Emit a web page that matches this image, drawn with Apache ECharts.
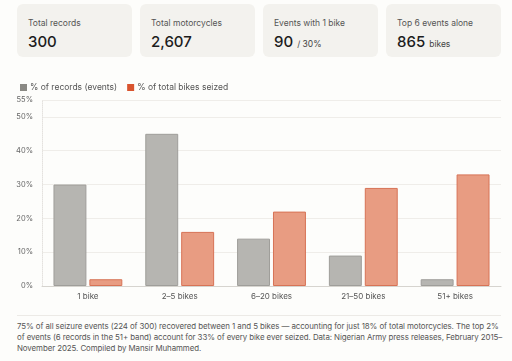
<!DOCTYPE html>
<html>
<head>
<meta charset="utf-8">
<script src="https://cdn.jsdelivr.net/npm/echarts@6/dist/echarts.min.js"></script>
<style>
  html, body { margin: 0; padding: 0; background: #fdfdfb; }
  body { width: 512px; height: 361px; position: relative; overflow: hidden; font-family: Inter, "Noto Sans", sans-serif; }
  .card { position: absolute; top: 4px; width: 115px; height: 53px; background: #f3f2ee; border-radius: 6px; box-sizing: border-box; padding-left: 11px; }
  .card .lbl { position: absolute; top: 14px; left: 11px; font-size: 8.5px; color: #555; }
  .card .val { position: absolute; top: 28px; left: 11px; font-size: 15px; font-weight: 500; color: #1c1c1c; white-space: nowrap; }
  .card .val small { font-size: 8.5px; font-weight: 400; color: #444; }
  #chart { position: absolute; left: 0; top: 70px; width: 512px; height: 240px; }
  .rule { position: absolute; left: 17px; right: 11px; top: 315px; border-top: 1px solid #eceae6; }
  .note { position: absolute; left: 17px; width: 490px; top: 321px; font-size: 7.9px; letter-spacing: -0.08px; line-height: 11px; color: #555; }
</style>
</head>
<body>
<div class="card" style="left:17px"><div class="lbl">Total records</div><div class="val">300</div></div>
<div class="card" style="left:140px"><div class="lbl">Total motorcycles</div><div class="val">2,607</div></div>
<div class="card" style="left:263px"><div class="lbl">Events with 1 bike</div><div class="val">90 <small>/ 30%</small></div></div>
<div class="card" style="left:386px"><div class="lbl">Top 6 events alone</div><div class="val">865 <small>bikes</small></div></div>
<div id="chart"></div>
<div class="rule"></div>
<div class="note">75% of all seizure events (224 of 300) recovered between 1 and 5 bikes — accounting for just 18% of total motorcycles. The top 2% of events (6 records in the 51+ band) account for 33% of every bike ever seized. Data: Nigerian Army press releases, February 2015–<wbr>November 2025. Compiled by Mansir Muhammed.</div>
<script>
// bike-count bands
const bands = ['1 bike', '2–5 bikes', '6–20 bikes', '21–50 bikes', '51+ bikes']
// share of seizure records per band (%)
const recordsPct = [30, 45, 14, 9, 2]
// share of all bikes seized per band (%)
const bikesPct = [2, 16, 22, 29, 33]

const chart = echarts.init(document.getElementById('chart'))

const option = {
  animation: false,
  textStyle: { fontFamily: 'Inter, "Noto Sans", sans-serif' },
  legend: {
    left: 15,
    top: 8,
    itemWidth: 7,
    itemHeight: 7,
    itemGap: 10,
    textStyle: { fontSize: 8.5, color: '#555', padding: [0, 0, 0, -2] },
    data: [
      { name: '% of records (events)', icon: 'rect', itemStyle: { color: '#8a8984', borderWidth: 0 } },
      { name: '% of total bikes seized', icon: 'rect', itemStyle: { color: '#d9542e', borderWidth: 0 } }
    ]
  },
  grid: { left: 42, right: 11, top: 30, bottom: 24 },
  xAxis: {
    type: 'category',
    data: bands,
    axisTick: { show: false },
    axisLine: { lineStyle: { color: '#d6d4cf' } },
    axisLabel: { fontSize: 8, color: '#555', margin: 7 }
  },
  yAxis: {
    type: 'value',
    min: 0,
    max: 55,
    interval: 10,
    axisLine: { show: true, lineStyle: { color: '#e4e2de', type: 'dotted' } },
    axisTick: { show: false },
    axisLabel: { fontSize: 7.5, color: '#666', margin: 9, formatter: '{value}%' },
    splitLine: { lineStyle: { color: '#efede9' } }
  },
  series: [
    {
      name: '% of records (events)',
      type: 'bar',
      data: recordsPct,
      barGap: '9%',
      barCategoryGap: '25%',
      itemStyle: { color: '#b6b5b1', borderColor: '#9f9e9a', borderWidth: 1 }
    },
    {
      name: '% of total bikes seized',
      type: 'bar',
      data: bikesPct,
      itemStyle: { color: '#e89c82', borderColor: '#d77356', borderWidth: 1 }
    }
  ]
}

chart.setOption(option)
</script>
</body>
</html>
